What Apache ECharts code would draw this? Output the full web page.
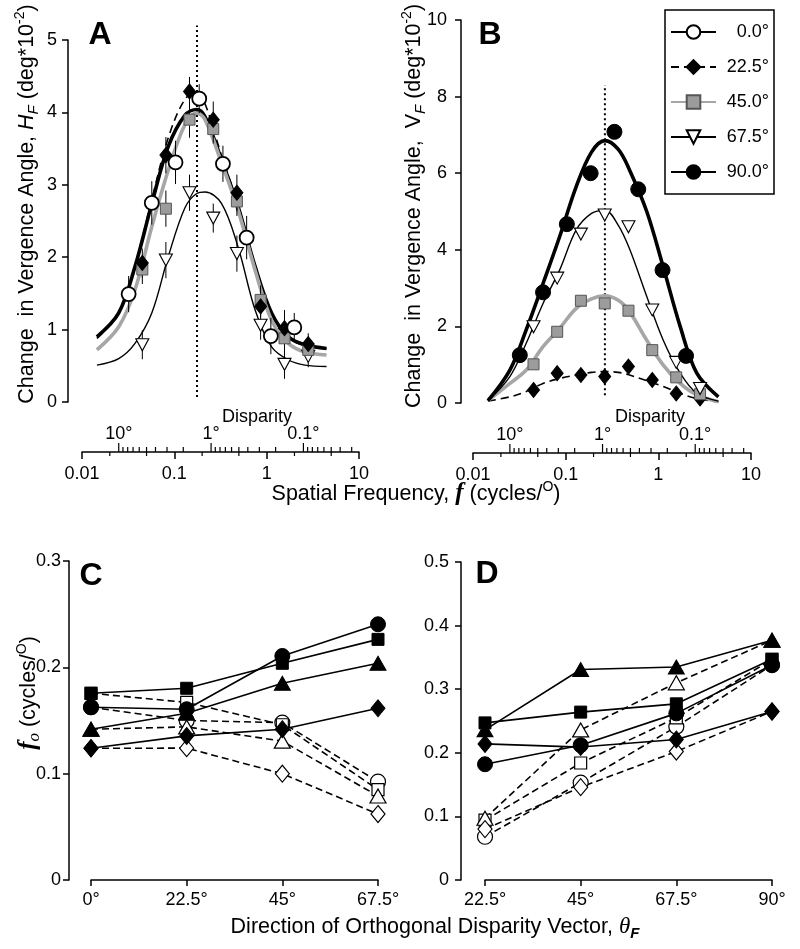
<!DOCTYPE html>
<html><head><meta charset="utf-8">
<script src="https://cdn.jsdelivr.net/npm/echarts@6/dist/echarts.min.js"></script>
<style>html,body{margin:0;padding:0;background:#fff}#c{width:800px;height:949px}</style>
</head><body><div id="c"></div>
<script>
// ---------------- DATA ----------------
const angleNames = ['0.0°', '22.5°', '45.0°', '67.5°', '90.0°'];
// spatial frequencies (cycles/deg) of tested gratings
const freqCircle = [0.032, 0.057, 0.103, 0.186, 0.336, 0.607, 1.11, 1.99];
const freqOther  = [0.045, 0.081, 0.146, 0.264, 0.476, 0.86, 1.56, 2.82];
// Panel A: horizontal vergence H_F (deg*10^-2)
const hA_0   = [1.49, 2.75, 3.31, 4.19, 3.29, 2.27, 0.91, 1.03];
const hA_225 = [1.92, 3.41, 4.29, 3.90, 2.89, 1.32, 1.02, 0.80];
const hA_45  = [1.83, 2.67, 3.90, 3.77, 2.77, 1.41, 0.88, 0.72];
const hA_675 = [0.79, 1.96, 2.89, 2.54, 2.05, 1.06, 0.52, 0.63];
const errA_0   = [0.25, 0.30, 0.30, 0.20, 0.25, 0.30, 0.25, 0.20];
const errA_225 = [0.20, 0.25, 0.20, 0.25, 0.25, 0.15, 0.25, 0.15];
const errA_45  = [0.20, 0.25, 0.25, 0.20, 0.20, 0.20, 0.25, 0.15];
const errA_675 = [0.20, 0.25, 0.25, 0.20, 0.25, 0.20, 0.20, 0.15];
// Panel B: vertical vergence V_F (deg*10^-2)
const vB_225 = [0.34, 0.78, 0.73, 0.69, 0.95, 0.60, 0.25, 0.12];
const vB_45  = [1.01, 1.86, 2.67, 2.60, 2.41, 1.38, 0.67, 0.23];
const vB_675 = [1.99, 3.26, 4.41, 4.91, 4.60, 2.43, 1.06, 0.38];
const vB_90  = [1.25, 2.89, 4.67, 6.00, 7.08, 5.58, 3.47, 1.23];
// fitted curves at these frequencies
const curveFreqA = [0.0145, 0.025, 0.0375, 0.057, 0.086, 0.13, 0.175, 0.215, 0.325, 0.49, 0.75, 1.13, 1.72, 2.6, 4.45];
const fitA_0   = [0.90, 1.23, 1.87, 2.74, 3.53, 3.96, 4.04, 3.94, 3.34, 2.70, 1.87, 1.23, 0.90, 0.79, 0.74];
const fitA_225 = [0.88, 1.22, 1.88, 2.80, 3.65, 4.18, 4.28, 4.12, 3.40, 2.72, 1.86, 1.21, 0.89, 0.78, 0.74];
const fitA_45  = [0.72, 1.04, 1.55, 2.42, 3.20, 3.83, 3.99, 3.90, 3.30, 2.65, 1.82, 1.13, 0.81, 0.69, 0.65];
const fitA_675 = [0.51, 0.60, 0.81, 1.23, 2.01, 2.68, 2.88, 2.90, 2.74, 2.14, 1.27, 0.76, 0.58, 0.51, 0.49];
const curveFreqB = [0.0145, 0.025, 0.0375, 0.057, 0.086, 0.13, 0.19, 0.265, 0.37, 0.49, 0.75, 1.13, 1.72, 2.6, 4.45];
const fitB_225 = [0.05, 0.16, 0.30, 0.51, 0.64, 0.73, 0.80, 0.82, 0.80, 0.73, 0.58, 0.43, 0.25, 0.12, 0.03];
const fitB_45  = [0.06, 0.51, 0.86, 1.47, 1.95, 2.47, 2.72, 2.80, 2.68, 2.38, 1.64, 0.99, 0.51, 0.21, 0.03];
const fitB_675 = [0.06, 0.69, 1.56, 2.60, 3.47, 4.52, 4.95, 5.03, 4.64, 4.02, 2.78, 1.64, 0.78, 0.25, 0.05];
const fitB_90  = [0.06, 0.86, 1.91, 3.12, 4.34, 5.65, 6.55, 6.85, 6.62, 6.08, 5.00, 3.55, 2.00, 0.78, 0.16];
// vertical dotted reference lines [freq, yFrom, yTo]
const peakA = [0.176, 0.07, 5.2];
const peakB = [0.265, 0.2, 8.3];
// disparity axis (quarter-cycle disparity, deg): f = DISP_K / d
const DISP_K = 0.25;
const dispMajor = [10, 1, 0.1];
const dispMajorLabels = ['10°', '1°', '0.1°'];
const dispMinor = [9, 8, 7, 6, 5, 4, 3, 2, 0.9, 0.8, 0.7, 0.6, 0.5, 0.4, 0.3, 0.2, 0.09, 0.08, 0.07, 0.06, 0.05, 0.04, 0.03];
const freqMinor = [0.02, 0.05, 0.2, 0.5, 2, 5];
// Panels C and D: optimal frequency f_o (cycles/deg)
const thetaC = ['0°', '22.5°', '45°', '67.5°'];
const thetaD = ['22.5°', '45°', '67.5°', '90°'];
const cSolidCircle  = [0.1625, 0.1606, 0.2107, 0.2405];
const cSolidSquare  = [0.1756, 0.1803, 0.2038, 0.2263];
const cSolidTri     = [0.1418, 0.1568, 0.1850, 0.2038];
const cSolidDiamond = [0.1239, 0.1355, 0.1418, 0.1615];
const cOpenCircle   = [0.1625, 0.1500, 0.1480, 0.0925];
const cOpenSquare   = [0.1756, 0.1670, 0.1460, 0.0850];
const cOpenTri      = [0.1418, 0.1440, 0.1306, 0.0790];
const cOpenDiamond  = [0.1239, 0.1240, 0.1000, 0.0620];
const dSolidTri     = [0.236, 0.331, 0.335, 0.377];
const dSolidSquare  = [0.247, 0.264, 0.277, 0.347];
const dSolidCircle  = [0.182, 0.212, 0.262, 0.338];
const dSolidDiamond = [0.214, 0.209, 0.221, 0.265];
const dOpenTri      = [0.097, 0.236, 0.310, 0.377];
const dOpenSquare   = [0.094, 0.184, 0.255, 0.347];
const dOpenCircle   = [0.068, 0.153, 0.241, 0.338];
const dOpenDiamond  = [0.080, 0.146, 0.202, 0.265];

// ---------------- STYLE / BUILD ----------------
const FONT = '"Liberation Sans", Arial, Helvetica, sans-serif';
const SERIF = '"Liberation Serif", "Times New Roman", serif';
const AXIS_GAP = 50;
const TRI_DOWN = 'path://M0,0L20,0L10,18Z';
const MARK = {
  '0.0°':  {symbol: 'circle', size: 14, fill: '#fff', border: '#000', bw: 1.8},
  '22.5°': {symbol: 'diamond', size: [12, 15], fill: '#000', border: '#000', bw: 1},
  '45.0°': {symbol: 'rect', size: 11, fill: '#9c9c9c', border: '#555', bw: 1},
  '67.5°': {symbol: TRI_DOWN, size: [13, 12], fill: '#fff', border: '#000', bw: 1.1},
  '90.0°': {symbol: 'circle', size: 15, fill: '#000', border: '#000', bw: 1}
};
const CURVE = {
  '0.0°':  {color: '#000', width: 3.6, type: 'solid'},
  '22.5°': {color: '#000', width: 1.6, type: [8, 5]},
  '45.0°': {color: '#a6a6a6', width: 3.6, type: 'solid'},
  '67.5°': {color: '#000', width: 1.4, type: 'solid'},
  '90.0°': {color: '#000', width: 3.6, type: 'solid'}
};
const zip = (xs, ys) => xs.map((x, i) => [x, ys[i]]);

function curveSeries(name, idx, xs, ys) {
  const m = MARK[name], c = CURVE[name];
  return {
    type: 'line', name, xAxisIndex: idx, yAxisIndex: idx, data: zip(xs, ys),
    smooth: 0.35, showSymbol: false, symbol: m.symbol, symbolSize: m.size,
    itemStyle: {color: m.fill, borderColor: m.border, borderWidth: m.bw},
    lineStyle: {color: c.color, width: c.width, type: c.type}, z: 3, silent: true
  };
}
function pointSeries(name, idx, xs, ys) {
  const m = MARK[name];
  return {
    type: 'scatter', name: name + ' pts', xAxisIndex: idx, yAxisIndex: idx, data: zip(xs, ys),
    symbol: m.symbol, symbolSize: m.size,
    itemStyle: {color: m.fill, borderColor: m.border, borderWidth: m.bw, opacity: 1}, z: 5, silent: true
  };
}
function errSeries(idx, xs, ys, es) {
  return {
    type: 'custom', xAxisIndex: idx, yAxisIndex: idx, z: 4, silent: true,
    data: xs.map((x, i) => [x, ys[i], es[i]]), encode: {x: 0, y: 1},
    renderItem: (p, api) => {
      const x = api.value(0), y = api.value(1), e = api.value(2);
      const a = api.coord([x, y - e]), b = api.coord([x, y + e]);
      return {type: 'line', shape: {x1: a[0], y1: a[1], x2: b[0], y2: b[1]}, style: {stroke: '#000', lineWidth: 1}};
    }
  };
}
function peakSeries(idx, pk) {
  return {
    type: 'custom', xAxisIndex: idx, yAxisIndex: idx, z: 2, silent: true,
    data: [pk], encode: {x: 0, y: 1},
    renderItem: (p, api) => {
      const a = api.coord([api.value(0), api.value(1)]), b = api.coord([api.value(0), api.value(2)]);
      return {type: 'line', shape: {x1: a[0], y1: a[1], x2: b[0], y2: b[1]},
        style: {stroke: '#000', lineWidth: 2, lineDash: [2, 3]}};
    }
  };
}
function axisDecorSeries(idx) {
  const data = [];
  freqMinor.forEach(f => data.push([f, 0, -1]));
  dispMinor.forEach(d => data.push([DISP_K / d, 1, -1]));
  dispMajor.forEach((d, i) => data.push([DISP_K / d, 2, i]));
  return {
    type: 'custom', xAxisIndex: idx, yAxisIndex: idx, z: 2, silent: true, clip: false,
    data, encode: {x: 0, y: 1},
    renderItem: (p, api) => {
      const f = api.value(0), kind = api.value(1), li = api.value(2);
      const pt = api.coord([f, 0]);
      const x = pt[0], y0 = pt[1] + AXIS_GAP;
      const st = {stroke: '#000', lineWidth: 1.2};
      if (kind === 0) return {type: 'line', shape: {x1: x, y1: y0, x2: x, y2: y0 + 4}, style: st};
      if (kind === 1) return {type: 'line', shape: {x1: x, y1: y0, x2: x, y2: y0 - 5}, style: st};
      return {type: 'group', children: [
        {type: 'line', shape: {x1: x, y1: y0, x2: x, y2: y0 - 9}, style: st},
        {type: 'text', style: {text: dispMajorLabels[li], x: x, y: y0 - 9, align: 'center',
          verticalAlign: 'bottom', fontSize: 18, fontFamily: FONT, fill: '#000'}}
      ]};
    }
  };
}
const CMARK = {
  circle: {symbol: 'circle', size: 15},
  square: {symbol: 'rect', size: 12},
  tri: {symbol: 'triangle', size: [16, 14]},
  diamond: {symbol: 'diamond', size: [14, 17]}
};
function cdSeries(idx, shape, ys, open) {
  const m = CMARK[shape];
  return {
    type: 'line', xAxisIndex: idx, yAxisIndex: idx, data: ys, showAllSymbol: true,
    symbol: m.symbol, symbolSize: m.size, silent: true, z: open ? 3 : 4,
    itemStyle: open ? {color: '#fff', borderColor: '#000', borderWidth: 1.2} : {color: '#000', borderColor: '#000', borderWidth: 1},
    lineStyle: {color: '#000', width: 1.6, type: open ? [7, 4] : 'solid'}
  };
}

function logAxis(idx) {
  return {
    type: 'log', logBase: 10, min: 0.01, max: 10, gridIndex: idx, offset: AXIS_GAP, position: 'bottom',
    axisLine: {onZero: false, lineStyle: {color: '#000', width: 1.5}},
    axisTick: {length: 7, lineStyle: {color: '#000', width: 1.5}},
    axisLabel: {color: '#000', fontSize: 18, margin: 13, fontFamily: FONT},
    splitLine: {show: false}, minorTick: {show: false}
  };
}
function catAxis(idx, labels) {
  return {
    type: 'category', gridIndex: idx, data: labels, boundaryGap: false,
    axisLine: {onZero: false, lineStyle: {color: '#000', width: 1.5}},
    axisTick: {length: 6, interval: 0, lineStyle: {color: '#000', width: 1.5}},
    axisLabel: {interval: 0, color: '#000', fontSize: 18, margin: 11, fontFamily: FONT},
    splitLine: {show: false}
  };
}
function valAxis(idx, min, max, interval, offset, margin) {
  return {
    type: 'value', gridIndex: idx, min, max, interval, offset,
    axisLine: {show: true, lineStyle: {color: '#000', width: 1.5}},
    axisTick: {show: true, length: 6, lineStyle: {color: '#000', width: 1.5}},
    axisLabel: {color: '#000', fontSize: 18, margin, fontFamily: FONT},
    splitLine: {show: false}
  };
}

const series = [
  curveSeries('0.0°', 0, curveFreqA, fitA_0), curveSeries('22.5°', 0, curveFreqA, fitA_225),
  curveSeries('45.0°', 0, curveFreqA, fitA_45), curveSeries('67.5°', 0, curveFreqA, fitA_675),
  curveSeries('22.5°', 1, curveFreqB, fitB_225), curveSeries('45.0°', 1, curveFreqB, fitB_45),
  curveSeries('67.5°', 1, curveFreqB, fitB_675), curveSeries('90.0°', 1, curveFreqB, fitB_90),
  errSeries(0, freqCircle, hA_0, errA_0), errSeries(0, freqOther, hA_225, errA_225),
  errSeries(0, freqOther, hA_45, errA_45), errSeries(0, freqOther, hA_675, errA_675),
  pointSeries('67.5°', 0, freqOther, hA_675), pointSeries('45.0°', 0, freqOther, hA_45),
  pointSeries('22.5°', 0, freqOther, hA_225), pointSeries('0.0°', 0, freqCircle, hA_0),
  pointSeries('22.5°', 1, freqOther, vB_225), pointSeries('45.0°', 1, freqOther, vB_45),
  pointSeries('67.5°', 1, freqOther, vB_675), pointSeries('90.0°', 1, freqCircle, vB_90),
  peakSeries(0, peakA), peakSeries(1, peakB),
  axisDecorSeries(0), axisDecorSeries(1),
  cdSeries(2, 'circle', cOpenCircle, true), cdSeries(2, 'square', cOpenSquare, true),
  cdSeries(2, 'tri', cOpenTri, true), cdSeries(2, 'diamond', cOpenDiamond, true),
  cdSeries(2, 'circle', cSolidCircle, false), cdSeries(2, 'square', cSolidSquare, false),
  cdSeries(2, 'tri', cSolidTri, false), cdSeries(2, 'diamond', cSolidDiamond, false),
  cdSeries(3, 'circle', dOpenCircle, true), cdSeries(3, 'square', dOpenSquare, true),
  cdSeries(3, 'tri', dOpenTri, true), cdSeries(3, 'diamond', dOpenDiamond, true),
  cdSeries(3, 'circle', dSolidCircle, false), cdSeries(3, 'square', dSolidSquare, false),
  cdSeries(3, 'tri', dSolidTri, false), cdSeries(3, 'diamond', dSolidDiamond, false)
];

const TS = 21.5;
const RICH = {
  n: {fontSize: TS, fontFamily: FONT, lineHeight: 28, fill: '#000'},
  i: {fontSize: TS, fontFamily: FONT, fontStyle: 'italic', lineHeight: 28},
  s: {fontSize: 15, fontFamily: FONT, fontStyle: 'italic', lineHeight: 15, verticalAlign: 'bottom'},
  sb: {fontSize: 15, fontFamily: FONT, fontStyle: 'italic', fontWeight: 'bold', lineHeight: 15, verticalAlign: 'bottom'},
  p: {fontSize: 14, fontFamily: FONT, lineHeight: 14, verticalAlign: 'top'},
  f: {fontSize: 25, fontFamily: SERIF, fontStyle: 'italic', fontWeight: 'bold', lineHeight: 28},
  fs: {fontSize: 17, fontFamily: SERIF, fontStyle: 'italic', lineHeight: 17, verticalAlign: 'bottom'},
  th: {fontSize: 23, fontFamily: SERIF, fontStyle: 'italic', lineHeight: 28}
};
function txt(text, x, y, rot) {
  return {type: 'text', x, y, rotation: rot || 0, silent: true,
    style: {text, rich: RICH, fontSize: TS, fontFamily: FONT, fill: '#000', align: 'center', verticalAlign: 'middle'}};
}
function letter(t, x, y) {
  return {type: 'text', x, y, silent: true,
    style: {text: t, fontSize: 32, fontWeight: 'bold', fontFamily: FONT, fill: '#000', align: 'center', verticalAlign: 'middle'}};
}
function plain(t, x, y) {
  return {type: 'text', x, y, silent: true,
    style: {text: t, fontSize: 18, fontFamily: FONT, fill: '#000', align: 'center', verticalAlign: 'middle'}};
}

const option = {
  animation: false,
  backgroundColor: '#fff',
  textStyle: {fontFamily: FONT, color: '#000'},
  grid: [
    {left: 82, top: 40, width: 277, height: 362},
    {left: 473, top: 20, width: 278, height: 383},
    {left: 91, top: 561, width: 287, height: 319},
    {left: 485, top: 562, width: 287, height: 318}
  ],
  xAxis: [logAxis(0), logAxis(1), catAxis(2, thetaC), catAxis(3, thetaD)],
  yAxis: [valAxis(0, 0, 5, 1, 14, 11), valAxis(1, 0, 10, 2, 12, 14), valAxis(2, 0, 0.3, 0.1, 22, 8), valAxis(3, 0, 0.5, 0.1, 24, 12)],
  legend: {
    data: angleNames, orient: 'vertical', left: 665, top: 10,
    itemWidth: 45, itemHeight: 17, itemGap: 17, padding: [13, 5, 13, 5],
    borderColor: '#000', borderWidth: 1.5, selectedMode: false,
    formatter: n => '{r|' + n + '}',
    textStyle: {fontSize: 18, color: '#000', fontFamily: FONT,
      rich: {r: {width: 48, align: 'right', fontSize: 18, fontFamily: FONT, color: '#000'}}}
  },
  graphic: [
    txt('{n|Change  in Vergence Angle, }{i|H}{s|F}{n| (deg*10}{p|-2}{n|)}', 27, 204, Math.PI / 2),
    txt('{n|Change  in Vergence Angle,  V}{s|F}{n| (deg*10}{p|-2}{n|)}', 414, 206, Math.PI / 2),
    txt('{f|f}{fs|o}{n| (cycles/}{p|O}{n|)}', 29, 693, Math.PI / 2),
    txt('{n|Spatial Frequency, }{f|f}{n| (cycles/}{p|O}{n|)}', 416, 494, 0),
    txt('{n|Direction of Orthogonal Disparity Vector, }{th|θ}{sb|F}', 435, 927, 0),
    plain('Disparity', 257, 417), plain('Disparity', 650, 417),
    letter('A', 100, 35), letter('B', 490, 35), letter('C', 91, 576), letter('D', 487, 574)
  ],
  series
};
const chart = echarts.init(document.getElementById('c'), null, {renderer: 'canvas'});
chart.setOption(option);
</script>
</body></html>
